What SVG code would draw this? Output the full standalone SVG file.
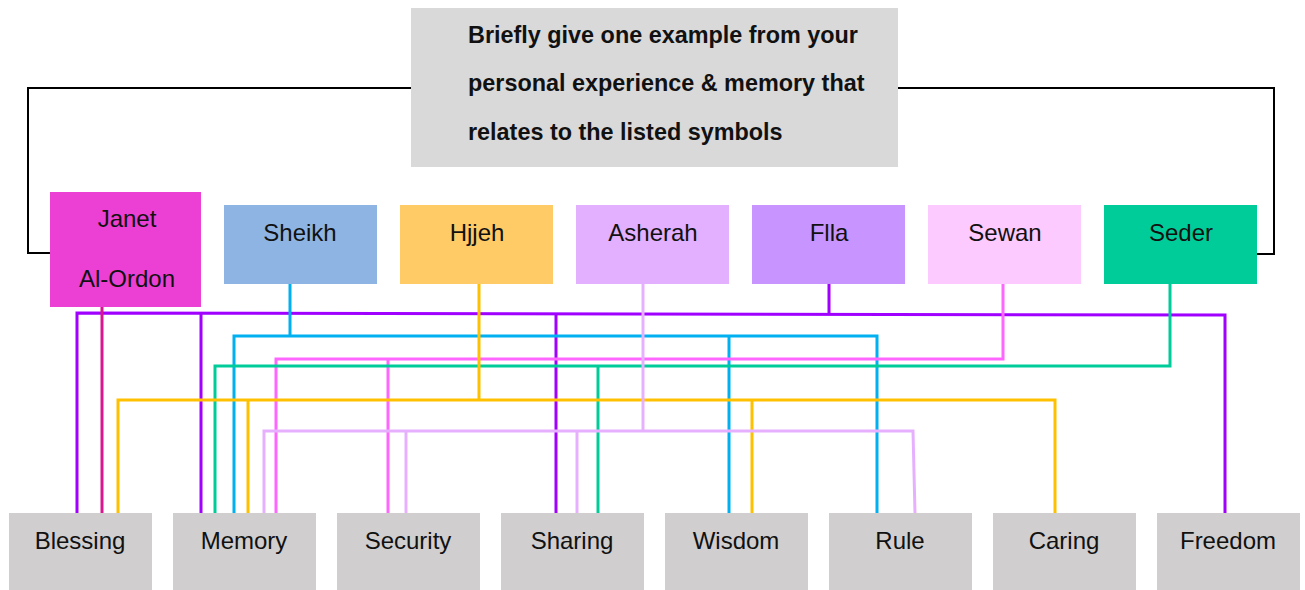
<svg xmlns="http://www.w3.org/2000/svg" width="1305" height="590" viewBox="0 0 1305 590">
<style>
.lbl{font-family:"Liberation Sans",Arial,sans-serif;font-size:24px;fill:#111;text-anchor:middle}
.ttl{font-family:"Liberation Sans",Arial,sans-serif;font-size:23.4px;font-weight:bold;fill:#111}
.bot{fill:#d0cece}
.c{fill:none;stroke-width:3;stroke-linejoin:miter}
.br{fill:none;stroke:#000;stroke-width:2}
</style>
<rect width="1305" height="590" fill="#fff"/>
<g id="connectors">
  <polyline class="br" points="411,88 28,88 28,253 50,253"/>
  <polyline class="br" points="897,88 1274,88 1274,254 1257,254"/>
  <!-- Flla purple -->
  <polyline class="c" stroke="#a000ff" points="77,513 77,313 1225,315 1225,513"/>
  <polyline class="c" stroke="#a000ff" points="829,279 829,313"/>
  <line class="c" stroke="#a000ff" x1="201" y1="313" x2="201" y2="513"/>
  <line class="c" stroke="#a000ff" x1="556" y1="314" x2="556" y2="513"/>
  <!-- Janet magenta -->
  <line class="c" stroke="#d9168f" x1="102" y1="306" x2="102" y2="513"/>
  <!-- Sheikh blue -->
  <polyline class="c" stroke="#00b0f0" points="290,284 290,336"/>
  <polyline class="c" stroke="#00b0f0" points="234,513 234,336 877,336 877,513"/>
  <line class="c" stroke="#00b0f0" x1="729" y1="336" x2="729" y2="513"/>
  <!-- Sewan pink -->
  <polyline class="c" stroke="#ff66ff" points="276,513 276,359 1003,359 1003,279"/>
  <line class="c" stroke="#ff66ff" x1="388" y1="359" x2="388" y2="513"/>
  <!-- Seder green -->
  <polyline class="c" stroke="#00cc99" points="215,513 215,366 1170,366 1170,284"/>
  <line class="c" stroke="#00cc99" x1="598" y1="366" x2="598" y2="513"/>
  <!-- Hjjeh orange -->
  <polyline class="c" stroke="#ffc000" points="479,280 479,400"/>
  <polyline class="c" stroke="#ffc000" points="118,513 118,400 1055,400 1055,513"/>
  <line class="c" stroke="#ffc000" x1="248" y1="400" x2="248" y2="513"/>
  <line class="c" stroke="#ffc000" x1="752" y1="400" x2="752" y2="513"/>
  <!-- Asherah lavender -->
  <polyline class="c" stroke="#e6b0ff" points="643,284 643,431"/>
  <polyline class="c" stroke="#e6b0ff" points="264,513 264,431 913,431 915,513"/>
  <line class="c" stroke="#e6b0ff" x1="406" y1="431" x2="406" y2="513"/>
  <line class="c" stroke="#e6b0ff" x1="577" y1="431" x2="577" y2="513"/>
</g>
<g id="title">
  <rect x="411" y="8" width="487" height="159" fill="#d9d9d9"/>
  <text class="ttl" x="468" y="43">Briefly give one example from your</text>
  <text class="ttl" x="468" y="91">personal experience &amp; memory that</text>
  <text class="ttl" x="468" y="140">relates to the listed symbols</text>
</g>
<g id="janet">
  <rect x="50" y="192" width="151" height="115" fill="#ec40d4"/>
  <text class="lbl" x="127" y="227">Janet</text>
  <text class="lbl" x="127" y="287">Al-Ordon</text>
</g>
<g id="sheikh"><rect x="224" y="205" width="153" height="79" fill="#8eb4e3"/><text class="lbl" x="300" y="241">Sheikh</text></g>
<g id="hjjeh"><rect x="400" y="205" width="153" height="79" fill="#fecb66"/><text class="lbl" x="477" y="241">Hjjeh</text></g>
<g id="asherah"><rect x="576" y="205" width="153" height="79" fill="#e2b0ff"/><text class="lbl" x="653" y="241">Asherah</text></g>
<g id="flla"><rect x="752" y="205" width="153" height="79" fill="#c894ff"/><text class="lbl" x="829" y="241">Flla</text></g>
<g id="sewan"><rect x="928" y="205" width="153" height="79" fill="#fccafe"/><text class="lbl" x="1005" y="241">Sewan</text></g>
<g id="seder"><rect x="1104" y="205" width="153" height="79" fill="#00cc99"/><text class="lbl" x="1181" y="241">Seder</text></g>
<g id="blessing"><rect class="bot" x="9" y="513" width="143" height="77"/><text class="lbl" x="80" y="549">Blessing</text></g>
<g id="memory"><rect class="bot" x="173" y="513" width="143" height="77"/><text class="lbl" x="244" y="549">Memory</text></g>
<g id="security"><rect class="bot" x="337" y="513" width="143" height="77"/><text class="lbl" x="408" y="549">Security</text></g>
<g id="sharing"><rect class="bot" x="501" y="513" width="143" height="77"/><text class="lbl" x="572" y="549">Sharing</text></g>
<g id="wisdom"><rect class="bot" x="665" y="513" width="143" height="77"/><text class="lbl" x="736" y="549">Wisdom</text></g>
<g id="rule"><rect class="bot" x="829" y="513" width="143" height="77"/><text class="lbl" x="900" y="549">Rule</text></g>
<g id="caring"><rect class="bot" x="993" y="513" width="143" height="77"/><text class="lbl" x="1064" y="549">Caring</text></g>
<g id="freedom"><rect class="bot" x="1157" y="513" width="143" height="77"/><text class="lbl" x="1228" y="549">Freedom</text></g>
</svg>
